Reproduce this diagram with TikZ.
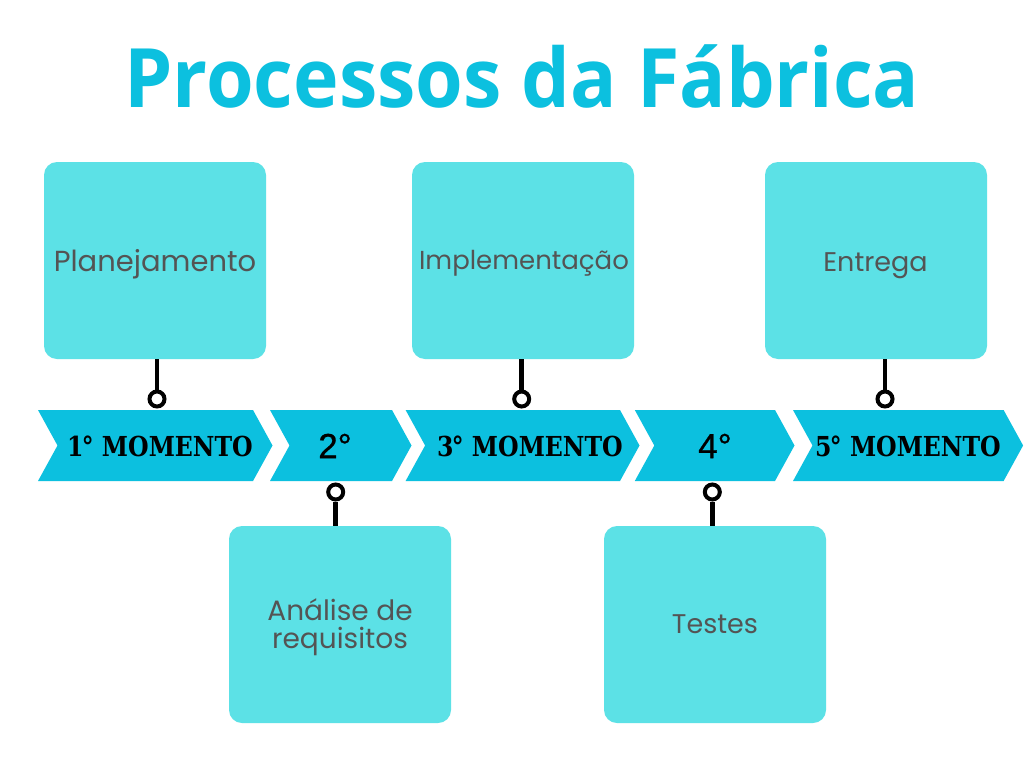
\documentclass[tikz,border=0pt]{standalone}
\usepackage{fontspec}
\usetikzlibrary{positioning}
\newfontfamily\titlefont{Open Sans}
\newfontfamily\boxfont{Poppins}
\newfontfamily\chevfont{DejaVu Serif}
\newfontfamily\numfont[FakeBold=0.8]{Liberation Sans}
\definecolor{cyanT}{HTML}{0CC0DF}
\definecolor{boxC}{HTML}{5CE1E6}
\definecolor{txtG}{HTML}{545454}
\tikzset{
  box/.style={fill=boxC, rounded corners=13pt, minimum width=222pt, minimum height=197pt, inner sep=0pt},
  boxtext/.style={text=txtG, font=\boxfont\fontsize{27}{28}\selectfont, anchor=base, inner sep=0pt, align=center},
  chev/.style={fill=cyanT},
  chevtext/.style={text=black, font=\chevfont\bfseries\fontsize{27.5}{30}\selectfont, inner sep=0pt},
  numtext/.style={text=black, font=\numfont\fontsize{35}{36}\selectfont, inner sep=0pt},
  pin/.style={circle, draw=black, line width=4pt, fill=white, minimum size=15pt, inner sep=0pt},
  stem/.style={draw=black, line width=4.5pt}
}
\newcommand\chevshape[2]{\fill[chev] (#1,410) -- (#2,410) -- (#2+19.5,445.5) -- (#2,481) -- (#1,481) -- (#1+19.5,445.5) -- cycle;}
\begin{document}
\begin{tikzpicture}[x=1pt,y=-1pt]
\useasboundingbox[fill=white] (0,0) rectangle (1024,768);
% title
\node[text=cyanT, font=\titlefont\bfseries\fontsize{82}{84}\selectfont, anchor=base, inner sep=0pt] (title) at (522,107) {\scalebox{0.94}[1]{Processos da Fábrica}};
% chevrons
\chevshape{38}{253}
\chevshape{270}{392}
\chevshape{405.6}{620}
\chevshape{634.8}{775}
\chevshape{793}{1003.6}
\node[chevtext] (m1) at (160,446) {\scalebox{0.86}[1]{1\kern-2pt° MOMENTO}};
\node[numtext] (m2) at (335,446) {2°};
\node[chevtext] (m3) at (530,446) {\scalebox{0.86}[1]{3\kern-2pt° MOMENTO}};
\node[numtext] (m4) at (715,446) {4°};
\node[chevtext] (m5) at (908,446) {\scalebox{0.86}[1]{5\kern-2pt° MOMENTO}};
% boxes
\node[box] (b1) at (155,260.5) {};
\node[box] (b2) at (340,624.5) {};
\node[box] (b3) at (523,260.5) {};
\node[box] (b4) at (715,624.5) {};
\node[box] (b5) at (876,260.5) {};
\node[boxtext, font=\boxfont\fontsize{29}{30}\selectfont] (t1) at (155,271.7) {Planejamento};
\node[boxtext, font=\boxfont\fontsize{26}{28.3}\selectfont] (t3) at (524,269.3) {Implementação};
\node[boxtext] (t5) at (875.5,271) {Entrega};
\node[boxtext] (t4) at (715,633.3) {Testes};
\node[boxtext, font=\boxfont\fontsize{28}{28.3}\selectfont] (t2) at (340,648.3) {Análise de\\requisitos};
% pins
\node[pin] (p1) at (157,399) {};
\node[pin] (p2) at (335.7,492) {};
\node[pin] (p3) at (521.7,399) {};
\node[pin] (p4) at (712.3,492) {};
\node[pin] (p5) at (885,399) {};
\draw[stem] (b1.south -| p1) -- (p1.north);
\draw[stem] (b3.south -| p3) -- (p3.north);
\draw[stem] (b5.south -| p5) -- (p5.north);
\draw[stem] (b2.north -| p2) -- (p2.south);
\draw[stem] (b4.north -| p4) -- (p4.south);
\end{tikzpicture}
\end{document}
